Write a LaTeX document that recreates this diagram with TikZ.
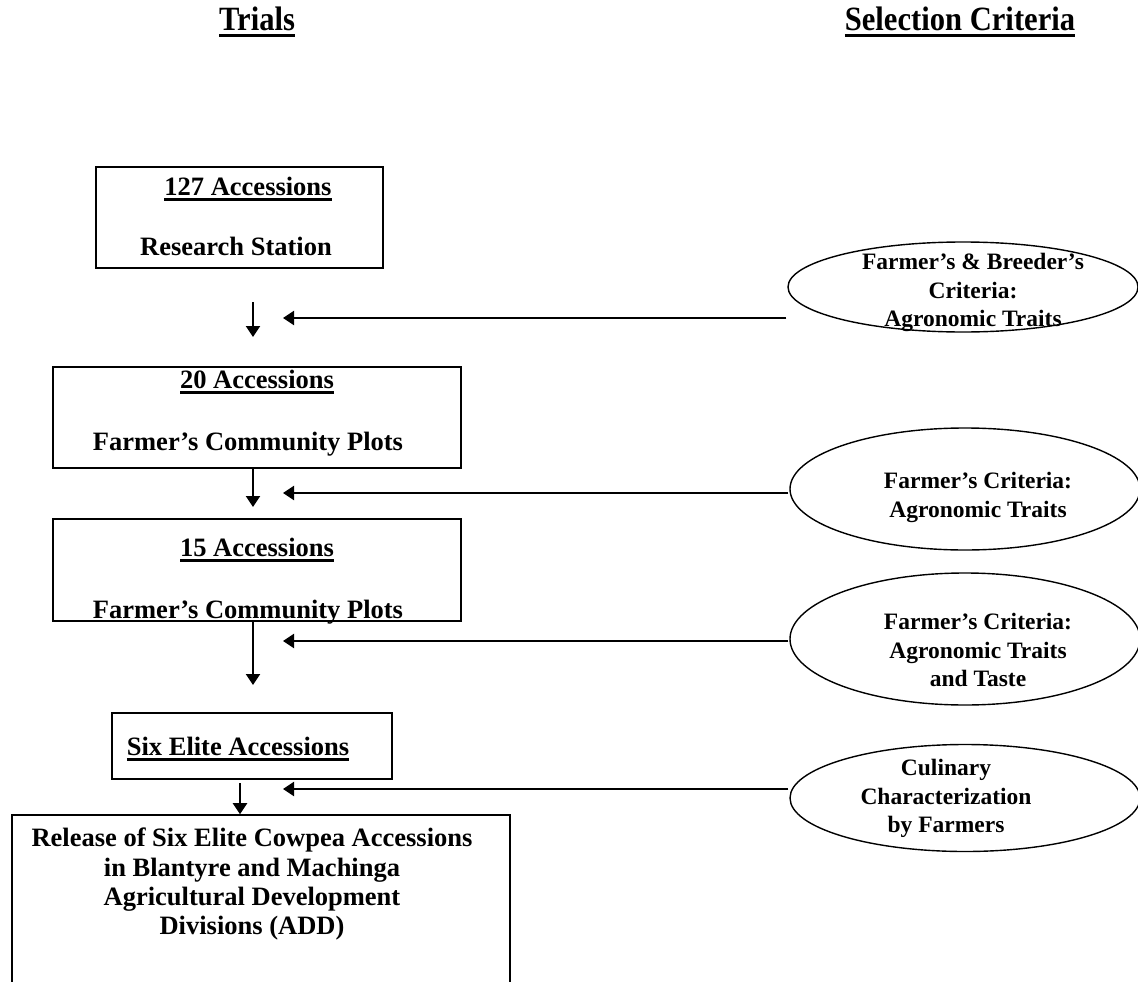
\documentclass[tikz,border=0pt]{standalone}
\usepackage{fontspec}
\setmainfont{Liberation Serif}
\newfontfamily\titlefont[FakeStretch=0.9]{Liberation Serif}
\usetikzlibrary{shapes.geometric,arrows.meta}
% thick underline
\newcommand{\ulin}[1]{\setbox0\hbox{#1}\rlap{\vrule height -3.3pt depth 5.6pt width \wd0}\box0}

\begin{document}
\begin{tikzpicture}[x=1pt, y=-1pt,
    box/.style = {draw, line width=1.6pt, inner sep=0pt},
    crit/.style = {ellipse, draw, line width=1.4pt, inner sep=0pt},
    lbl/.style = {inner sep=0pt, font=\bfseries\fontsize{26.5}{29.3}\selectfont},
    clbl/.style = {inner sep=0pt, align=center, anchor=north,
      font=\bfseries\fontsize{23.5}{28.5}\selectfont},
    head/.style = {inner sep=0pt, anchor=base,
      font=\titlefont\bfseries\fontsize{34}{40}\selectfont},
    arr/.style = {line width=2.2pt, -{Triangle[width=14pt,length=11pt]}}]
  \useasboundingbox (0,0) rectangle (1138,982);

  % column heads
  \node[head] (trials) at (257,31) {\ulin{Trials}};
  \node[head] (selcrit) at (960,31) {\ulin{Selection Criteria}};

  % trial boxes
  \node[box, minimum width=287pt, minimum height=101pt] (b1) at (239.5,217.5) {};
  \node[box, minimum width=408pt, minimum height=101pt] (b2) at (257,417.5) {};
  \node[box, minimum width=408pt, minimum height=102pt] (b3) at (257,570) {};
  \node[box, minimum width=280pt, minimum height=66pt] (b4) at (252,746) {};
  \node[box, minimum width=498pt, minimum height=175pt] (b5) at (261,902.5) {};

  \node[lbl, anchor=base] (b1a) at (248,195) {\ulin{127 Accessions}};
  \node[lbl, anchor=base] (b1b) at (236,255) {Research Station};
  \node[lbl, anchor=base] (b2a) at (257,388) {\ulin{20 Accessions}};
  \node[lbl, anchor=base] (b2b) at (248,450) {Farmer’s Community Plots};
  \node[lbl, anchor=base] (b3a) at (257,556) {\ulin{15 Accessions}};
  \node[lbl, anchor=base] (b3b) at (248,618) {Farmer’s Community Plots};
  \node[lbl, anchor=base] (b4a) at (238,755) {\ulin{Six Elite Accessions}};
  \node[lbl, align=center, anchor=north] (b5a) at (252,828)
    {Release of Six Elite Cowpea Accessions\\in Blantyre and Machinga\\
     Agricultural Development\\Divisions (ADD)};

  % criteria
  \node[crit, minimum width=350pt, minimum height=90pt] (c1) at (963,287) {};
  \node[crit, minimum width=350pt, minimum height=122pt] (c2) at (965,489) {};
  \node[crit, minimum width=350pt, minimum height=132pt] (c3) at (965,639) {};
  \node[crit, minimum width=350pt, minimum height=107pt] (c4) at (965,798) {};

  \node[clbl] (c1a) at (973,253) {Farmer’s \& Breeder’s\\Criteria:\\Agronomic Traits};
  \node[clbl] (c2a) at (978,472) {Farmer’s Criteria:\\Agronomic Traits};
  \node[clbl] (c3a) at (978,613) {Farmer’s Criteria:\\Agronomic Traits\\and Taste};
  \node[clbl] (c4a) at (946,759) {Culinary\\Characterization\\by Farmers};

  % arrow ends
  \coordinate (d1s) at (253,302);
  \coordinate (d1) at (253,337);
  \coordinate (d2) at (253,507);
  \coordinate (d3) at (253,685);
  \coordinate (d4s) at (240,783);
  \coordinate (h1) at (283,318);
  \coordinate (h2) at (283,493);
  \coordinate (h3) at (283,641);
  \coordinate (h4) at (283,789);

  \draw[arr] (d1s) -- (d1);
  \draw[arr] (b2.south -| d2) -- (d2);
  \draw[arr] (b3.south -| d3) -- (d3);
  \draw[arr] (d4s) -- (d4s |- b5.north);

  \draw[arr] ([xshift=-1pt]c1.west |- h1) -- (h1);
  \draw[arr] ([xshift=-1pt]c2.west |- h2) -- (h2);
  \draw[arr] ([xshift=-1pt]c3.west |- h3) -- (h3);
  \draw[arr] ([xshift=-1pt]c4.west |- h4) -- (h4);
\end{tikzpicture}
\end{document}
